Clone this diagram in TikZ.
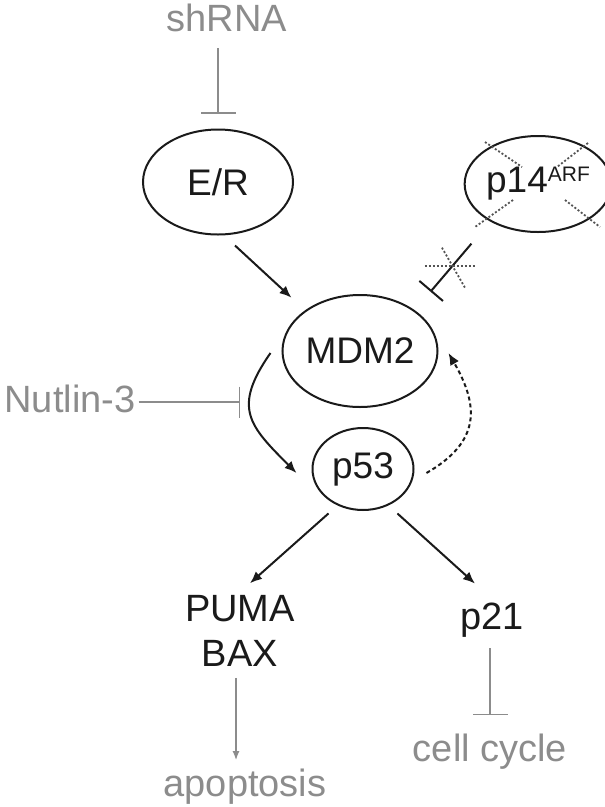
\documentclass[tikz,border=0pt]{standalone}
\usepackage{fontspec}
\setmainfont{Liberation Sans}
\usetikzlibrary{arrows.meta,shapes.geometric}
\usepackage{xcolor}
\definecolor{ink}{HTML}{1A1A1A}
\definecolor{mute}{HTML}{8C8C8C}

\begin{document}
\begin{tikzpicture}[
    x=1pt, y=1pt,
    oval/.style={draw=ink, ellipse, line width=2pt, inner sep=0pt, font=\fontsize{37}{44}\selectfont, text=ink},
    lbl/.style={font=\fontsize{38}{45}\selectfont, text=ink, align=center, inner sep=3pt},
    drug/.style={font=\fontsize{38}{45}\selectfont, text=mute, inner sep=3pt},
    arrow/.style={-{Latex[length=12pt,width=10pt]}, line width=2pt, color=ink},
    dasharrow/.style={arrow, dash pattern=on 4pt off 3pt},
    inhib/.style={-{Bar[width=31pt]}, line width=2pt, color=ink},
    grayarrow/.style={-{Latex[length=9pt,width=7pt]}, line width=1.4pt, color=mute},
    grayinhib/.style={-{Bar[width=35pt]}, line width=1.4pt, color=mute},
    cross/.style={line width=1.8pt, color=ink!75, dash pattern=on 2pt off 2pt},
]
\useasboundingbox (0,0) rectangle (605,-807);

% Upstream
\node[drug] (shrna) at (227,-18) {shRNA};
\node[oval, minimum width=150pt, minimum height=105pt] (er) at (218,-182) {E/R};
\node[oval, minimum width=120pt, minimum height=96pt] (p14) at (538,-184)
    {p14\raisebox{11pt}{\fontsize{21}{21}\selectfont ARF}};

% Core loop
\node[oval, minimum width=155pt, minimum height=112pt] (mdm2) at (360,-351) {MDM2};
\node[oval, minimum width=101pt, minimum height=82pt] (p53) at (363,-469) {p53};
\node[drug] (nutlin) at (70,-399) {Nutlin-3};
\coordinate (nutbar) at (240,-402);

% Targets
\node[lbl] (puma) at (240,-631) {PUMA\\BAX};
\node[lbl] (p21) at (492,-620) {p21};
\node[drug] (apop) at (245,-787) {apoptosis};
\node[drug] (cell) at (490,-752) {cell cycle};

% shRNA knock-down of E/R
\draw[grayinhib, shorten <=13pt] (shrna.south -| er.north) -- ([yshift=15pt]er.north);

% E/R activates MDM2
\draw[arrow] ([xshift=17pt,yshift=-10pt]er.south) -- ([xshift=-13pt,yshift=13pt]mdm2.north west);

% p14ARF block, crossed out
\foreach \a/\b/\c/\d in {-53/42/-16/17, -25/-16/-63/-43, 50/41/19/17, 27/-16/62/-43}
    \draw[cross] (p14.center) +(\a,\b) -- +(\c,\d);
\draw[inhib] ([xshift=-14pt,yshift=-25pt]p14.south west) -- coordinate[pos=.5] (cut)
    ([xshift=15pt,yshift=19pt]mdm2.north east);
\draw[cross] (cut) +(-26,2) -- +(24,2);
\draw[cross] (cut) +(-9,20) -- +(14,-20);

% MDM2 - p53 feedback
\draw[arrow] ([xshift=-11pt,yshift=-2pt]mdm2.west) to[out=235, in=135, looseness=1.4]
    ([xshift=-15pt,yshift=-4pt]p53.west);
\draw[dasharrow] ([xshift=12pt,yshift=-4pt]p53.east) to[out=30, in=-60, looseness=1.3]
    ([xshift=10pt,yshift=-2pt]mdm2.east);
\draw[grayinhib, -{Bar[width=31pt]}] (nutlin.east |- nutbar) -- (nutbar);

% p53 targets
\draw[arrow, shorten <=12pt] (p53.-125) -- ([xshift=10pt,yshift=9pt]puma.north);
\draw[arrow, shorten <=12pt] (p53.-55) -- ([xshift=-17pt,yshift=16pt]p21.north);
\draw[grayarrow, shorten <=8pt, shorten >=6pt] ([xshift=-4pt]puma.south) -- ([xshift=-4pt]puma.south |- apop.north);
\draw[grayinhib, shorten <=8pt] ([xshift=-2pt]p21.south) -- ([yshift=16pt]cell.north);

\end{tikzpicture}
\end{document}
